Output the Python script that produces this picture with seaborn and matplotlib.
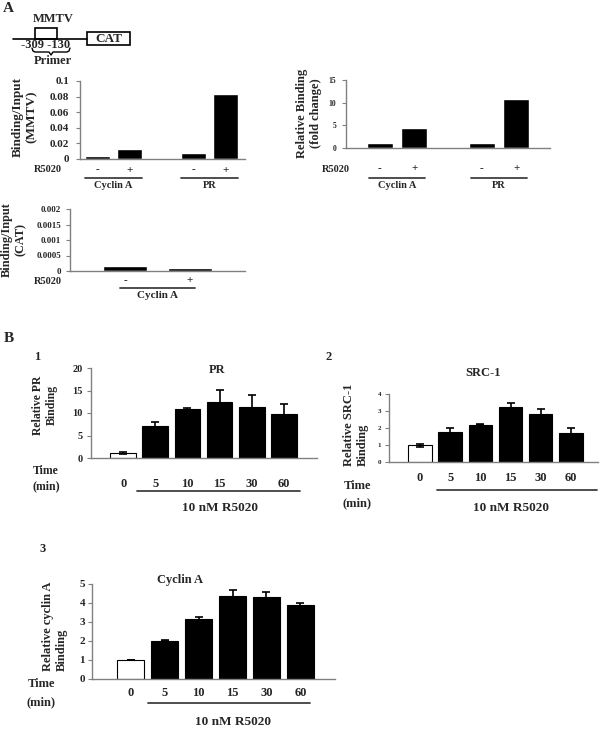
import numpy as np
import pandas as pd
import matplotlib
matplotlib.use("Agg")
import matplotlib.pyplot as plt
import seaborn as sns
from matplotlib.patches import Rectangle
from matplotlib.ticker import FormatStrFormatter
from matplotlib.transforms import blended_transform_factory

# ---- data ----
proteins_a = ["Cyclin A", "PR"]
r5020 = ["-", "+"]
mmtv_binding = {"Cyclin A": [0.004, 0.013], "PR": [0.008, 0.083]}
fold_change = {"Cyclin A": [1.2, 4.35], "PR": [1.2, 10.7]}
cat_binding = [0.00015, 0.00009]

times = ["0", "5", "10", "15", "30", "60"]
pr_rel = [1.1, 7.2, 10.8, 12.5, 11.4, 9.8]
pr_err = [0.3, 0.8, 0.4, 2.7, 2.5, 2.3]
src_rel = [1.0, 1.82, 2.22, 3.24, 2.84, 1.76]
src_err = [0.1, 0.22, 0.04, 0.27, 0.32, 0.28]
cyc_rel = [1.0, 2.0, 3.15, 4.32, 4.27, 3.87]
cyc_err = [0.0, 0.02, 0.07, 0.35, 0.3, 0.12]

GRAY = "#808080"
W, H = 600, 732

sns.set_style("white")
plt.rcParams["font.family"] = ["Liberation Serif", "DejaVu Serif"]
plt.rcParams["font.weight"] = "bold"

fig = plt.figure(figsize=(6, 7.32), dpi=100)

# overlay in pixel units for free text / schematic
ov = fig.add_axes([0, 0, 1, 1])
ov.set_xlim(0, W)
ov.set_ylim(H, 0)
ov.axis("off")


def add_box(l, t, r, b):
    ax = fig.add_axes([l / W, 1 - b / H, (r - l) / W, (b - t) / H])
    ax.set_facecolor("none")
    return ax


def txt(x, y, s, size, ha="center", va="center", **kw):
    ov.text(x, y, s, fontsize=size, ha=ha, va=va, fontweight="bold", **kw)


def style(ax, box, xlim, ylim, yticks, ysize, ypad, fmt=None):
    sns.despine(ax=ax)
    for s in ("left", "bottom"):
        ax.spines[s].set_color(GRAY)
        ax.spines[s].set_linewidth(1)
    ax.set_xlim(*xlim)
    ax.set_ylim(*ylim)
    ax.set_yticks(yticks)
    if fmt:
        ax.yaxis.set_major_formatter(FormatStrFormatter(fmt))
    ax.tick_params(axis="y", left=True, length=3, width=0.8, color=GRAY,
                   labelsize=ysize, pad=ypad)
    ax.tick_params(axis="x", bottom=True, length=0)
    ax.set_xlabel("")


def ylab(ax, box, text, px, py, size, ha="center"):
    l, t, r, b = box
    ax.set_ylabel(text, fontsize=size, fontweight="bold", va="center",
                  ha=ha, multialignment=ha if ha != "center" else "center")
    ax.yaxis.set_label_coords((px - l) / (r - l), (b - py) / (b - t))


def centers(ax):
    ps = sorted(ax.patches, key=lambda p: p.get_x())
    return [p.get_x() + p.get_width() / 2 for p in ps]


def xticks_at(ax, xs, labels, pad_px, size):
    ax.set_xticks(xs, labels, va="center", fontsize=size, fontweight="bold")
    ax.tick_params(axis="x", pad=pad_px * 0.72)


def underline(ax, x0, x1, y_line, label, y_text, size, color="#404040"):
    tr = blended_transform_factory(ax.transData, ov.transData)
    ax.plot([x0, x1], [y_line, y_line], transform=tr, color=color, lw=1.3,
            clip_on=False)
    ax.text((x0 + x1) / 2, y_text, label, transform=tr, fontsize=size,
            ha="center", va="center", fontweight="bold")


# ---- schematic ----
txt(8, 8, "A", 11)
ov.plot([13, 87], [39, 39], color="black", lw=1.2)
ov.add_patch(Rectangle((35, 28), 22, 11, fill=False, ec="black", lw=1.2))
ov.add_patch(Rectangle((87, 32), 43, 13, fill=False, ec="black", lw=1.2))
txt(53, 19, "MMTV", 9)
txt(108.5, 38.5, "CAT", 9.5)
txt(46, 45.5, "-309 -130", 9)
ov.plot([32, 33, 35, 49, 51, 53, 67, 69, 70],
        [48, 51, 52, 52, 55, 52, 52, 51, 48], color="black", lw=1)
txt(53, 61.5, "Primer", 9)

# ---- A1: Binding/Input (MMTV) ----
df1 = pd.DataFrame([(p, r, v) for p in proteins_a
                    for r, v in zip(r5020, mmtv_binding[p])],
                   columns=["protein", "R5020", "value"])
box = (80, 81, 245, 159)
ax = add_box(*box)
sns.barplot(data=df1, x="protein", y="value", hue="R5020", order=proteins_a,
            hue_order=r5020, palette=["black", "black"], width=0.67, gap=0.2,
            saturation=1, errorbar=None, legend=False, ax=ax)
style(ax, box, (-0.35, 1.37), (0, 0.1), [0, 0.02, 0.04, 0.06, 0.08, 0.1],
      8, 5, "%g")
ylab(ax, box, "Binding/Input\n(MMTV)", 24.5, 117, 9.5)
c = centers(ax)
xticks_at(ax, c, ["-", "+", "-", "+"], 11, 8)
txt(62, 170, "R5020", 7.5, ha="right")
underline(ax, c[0] - 0.133, c[1] + 0.133, 178, "Cyclin A", 186, 7.5)
underline(ax, c[2] - 0.133, c[3] + 0.133, 178, "PR", 186, 7.5)

# ---- A2: Relative binding (fold change) ----
df2 = pd.DataFrame([(p, r, v) for p in proteins_a
                    for r, v in zip(r5020, fold_change[p])],
                   columns=["protein", "R5020", "value"])
box = (346, 80, 550, 148)
ax = add_box(*box)
sns.barplot(data=df2, x="protein", y="value", hue="R5020", order=proteins_a,
            hue_order=r5020, palette=["black", "black"], width=0.67, gap=0.23,
            saturation=1, errorbar=None, legend=False, ax=ax)
style(ax, box, (-0.5, 1.5), (0, 15), [0, 5, 10, 15], 5.5, 4)
ylab(ax, box, "Relative Binding\n(fold change)", 309, 113, 9)
c = centers(ax)
xticks_at(ax, c, ["-", "+", "-", "+"], 21, 8)
txt(350, 169, "R5020", 7.5, ha="right")
underline(ax, c[0] - 0.11, c[1] + 0.11, 178, "Cyclin A", 186, 7.5)
underline(ax, c[2] - 0.11, c[3] + 0.11, 178, "PR", 186, 7.5)

# ---- A3: Binding/Input (CAT) ----
df3 = pd.DataFrame({"protein": ["Cyclin A"] * 2, "R5020": r5020,
                    "value": cat_binding})
box = (70, 209, 245, 271)
ax = add_box(*box)
sns.barplot(data=df3, x="protein", y="value", hue="R5020", hue_order=r5020,
            palette=["black", "black"], width=0.74, gap=0.33, saturation=1,
            errorbar=None, legend=False, ax=ax)
style(ax, box, (-0.5, 0.5), (0, 0.002),
      [0, 0.0005, 0.001, 0.0015, 0.002], 6.5, 3.5, "%g")
ylab(ax, box, "Binding/Input\n(CAT)", 14, 240, 8.8)
c = centers(ax)
xticks_at(ax, c, ["-", "+"], 10, 8)
txt(62, 282, "R5020", 7.5, ha="right")
underline(ax, c[0] - 0.03, c[1] + 0.03, 288, "Cyclin A", 296, 8)

# ---- B panels ----
txt(9, 338, "B", 11)


def time_panel(box, xlim, vals, errs, width, ymax, ystep, ysize, ypad,
               tick_pad, title, title_xy, ylabel, ylab_xy, ylab_ha,
               num, num_xy, time_xy, line_y, ext, r_y):
    ax = add_box(*box)
    df = pd.DataFrame({"time": times, "value": vals})
    sns.barplot(data=df, x="time", y="value", hue="time", order=times,
                palette=["white"] + ["black"] * 5, edgecolor="black",
                linewidth=0.8, width=width, saturation=1, errorbar=None,
                legend=False, ax=ax)
    c = centers(ax)
    ax.errorbar(c, vals, yerr=errs, fmt="none", ecolor="black",
                elinewidth=1.2, capsize=3, capthick=1.2, zorder=3)
    style(ax, box, xlim, (0, ymax), np.arange(0, ymax + 0.1, ystep),
          ysize, ypad)
    ax.yaxis.set_major_formatter(FormatStrFormatter("%g"))
    xticks_at(ax, c, times, tick_pad, 9)
    ylab(ax, box, ylabel, ylab_xy[0], ylab_xy[1], ylab_xy[2], ha=ylab_ha)
    txt(title_xy[0], title_xy[1], title, title_xy[2])
    txt(num_xy[0], num_xy[1], num, 9)
    txt(time_xy[0], time_xy[1], "Time", time_xy[2])
    txt(time_xy[0], time_xy[1] + time_xy[3], "(min)", time_xy[2])
    tr = blended_transform_factory(ax.transData, ov.transData)
    x0, x1 = c[1] - ext[0], c[5] + ext[1]
    ax.plot([x0, x1], [line_y, line_y], transform=tr, color="#404040",
            lw=1.3, clip_on=False)
    ax.text((c[1] + c[5]) / 2, r_y, "10 nM R5020", transform=tr,
            fontsize=9.5, ha="center", va="center", fontweight="bold")
    return ax


time_panel((91, 368, 317, 458), (-1.0, 6.03), pr_rel, pr_err, 0.8, 20, 5,
           7.5, 3, 26, "PR", (217, 370, 9), "Relative PR\nBinding",
           (45, 405, 8.5), "center", "1", (37, 357), (46, 471, 8.5, 15),
           491, (0.58, 0.51), 508)

time_panel((389, 394.5, 598, 462.5), (-1.03, 5.9), src_rel, src_err, 0.78,
           4, 1, 5, 2.5, 15.5, "SRC-1", (483, 373, 9),
           "Relative SRC-1\nBinding", (356, 466, 9), "left", "2", (329, 357),
           (357, 486, 9, 17), 490, (0.45, 0.86), 508)

time_panel((92, 583.5, 335, 678.5), (-1.14, 6.02), cyc_rel, cyc_err, 0.78,
           5, 1, 8, 2, 14.5, "Cyclin A", (180, 580, 9),
           "Relative cyclin A\nBinding", (55, 671, 9), "left", "3", (43, 549),
           (41, 684, 9, 18), 703, (0.5, 0.29), 722)

fig.savefig("out.png", dpi=100)
